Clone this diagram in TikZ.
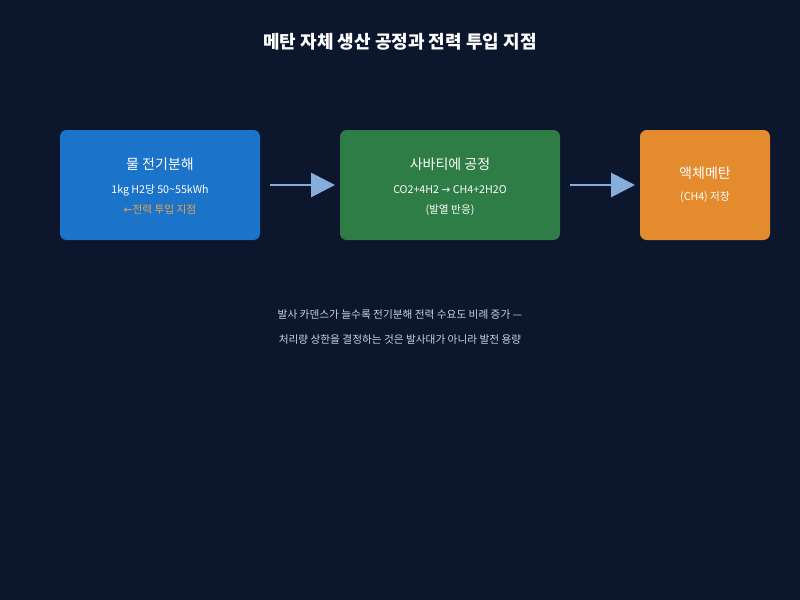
\documentclass[tikz,border=0pt]{standalone}
\usepackage{fontspec}
\setmainfont{Noto Sans CJK KR}
\usetikzlibrary{arrows.meta}
\definecolor{bg}{HTML}{0C172D}
\definecolor{bblue}{HTML}{1C74CA}
\definecolor{bgreen}{HTML}{2E7D47}
\definecolor{borange}{HTML}{E48B2D}
\definecolor{arr}{HTML}{86AEDD}
\definecolor{otext}{HTML}{EBA24A}
\definecolor{ltext}{HTML}{C9D3E3}
\begin{document}
\begin{tikzpicture}[x=0.75pt,y=-0.75pt,
  box/.style={rounded corners=5pt,inner sep=0pt},
  flow/.style={arr,line width=2.2pt,-{Triangle[length=18pt,width=18pt]}},
  t1/.style={text=white,font=\fontsize{10.5}{12}\selectfont},
  t2/.style={text=white,font=\fontsize{8}{10}\selectfont},
  note/.style={text=ltext,font=\fontsize{8}{10}\selectfont}]
\fill[bg] (0,0) rectangle (800,600);
\useasboundingbox (0,0) rectangle (800,600);
\node[text=white,font=\fontsize{13.5}{16}\selectfont\bfseries] (title) at (400,42) {메탄 자체 생산 공정과 전력 투입 지점};
\fill[bblue,box] (60,130) rectangle (260,240);
\coordinate (b1) at (160,185);
\fill[bgreen,box] (340,130) rectangle (560,240);
\coordinate (b2) at (450,185);
\fill[borange,box] (640,130) rectangle (770,240);
\coordinate (b3) at (705,185);
\node[t1] (a1) at (160,164) {물 전기분해};
\node[t2] (a2) at (160,190) {1kg H2당 50\textasciitilde 55kWh};
\node[t2,text=otext] (a3) at (160,210) {{\fontspec{DejaVu Sans}←}전력 투입 지점};
\node[t1] (c1) at (450,164) {사바티에 공정};
\node[t2] (c2) at (450,190) {CO2+4H2 {\fontspec{DejaVu Sans}→} CH4+2H2O};
\node[t2] (c3) at (450,210) {(발열 반응)};
\node[t1] (d1) at (705,173) {액체메탄};
\node[t2] (d2) at (705,197) {(CH4) 저장};
\coordinate (s1) at (270,185); \coordinate (e1) at (335,185);
\coordinate (s2) at (570,185); \coordinate (e2) at (635,185);
\draw[flow] (s1) -- (e1);
\draw[flow] (s2) -- (e2);
\node[note] (n1) at (400,315) {발사 카덴스가 늘수록 전기분해 전력 수요도 비례 증가 —};
\node[note] (n2) at (400,340) {처리량 상한을 결정하는 것은 발사대가 아니라 발전 용량};
\end{tikzpicture}
\end{document}
